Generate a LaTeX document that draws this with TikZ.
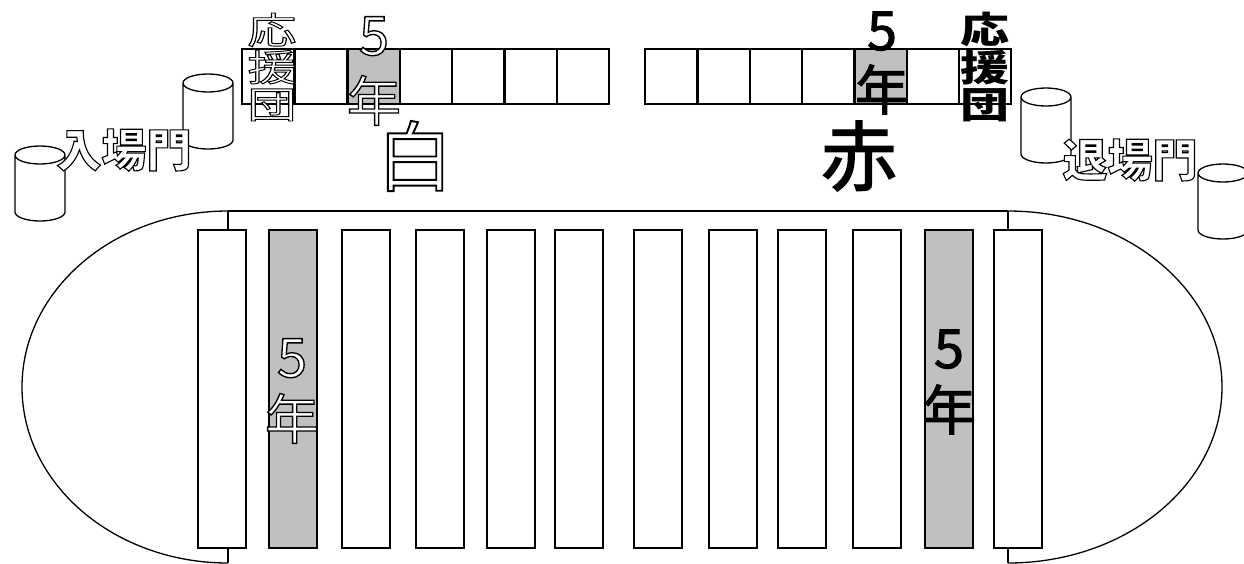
\documentclass[tikz,border=0pt]{standalone}
\usepackage{fontspec}
\usepackage{xcolor}
\setmainfont{Noto Sans CJK JP}
\newfontfamily\hollowfont[FakeBold=2.5]{Noto Sans CJK JP}
\newfontfamily\solidfont[FakeBold=1.8]{Noto Sans CJK JP}
\font\hollowgate="Noto Sans CJK JP/B:embolden=2.5" at 45pt
\definecolor{seatgray}{HTML}{C0C0C0}
% chu trang vien den
\newcommand{\hollow}[1]{{\hollowfont\special{pdf:bcolor [1] [0]}#1\special{pdf:ecolor}}}
\newcommand{\hollowb}[1]{{\hollowgate\special{pdf:bcolor [1] [0]}#1\special{pdf:ecolor}}}
\tikzset{
    seat/.style={draw=black, line width=1.3pt, fill=white},
    seatfive/.style={seat, fill=seatgray},
}
\begin{document}
\begin{tikzpicture}[x=1pt, y=-1pt, line width=1.3pt,
    tag/.style={inner sep=0pt, align=center, anchor=center, execute at begin node={\lineskiplimit=-100pt}},
    squat/.style={tag, yscale=0.75, transform shape}]
    \clip (0,0) rectangle (1244,563);
    % Trường đua
    \draw (228,211) -- (1008,211);
    \draw (228,211) arc[start angle=90, end angle=270, x radius=206, y radius=-176];
    \draw (1008,211) arc[start angle=90, end angle=-90, x radius=214, y radius=-176];
    \draw (228,211) -- (228,563);
    \draw (1008,211) -- (1008,563);

    % Hàng ghế dưới
    \foreach \x in {198,342,416,487,555,634,709,778,853,994} {
        \draw[seat] (\x,230) rectangle ++(48,318);
    }
    \foreach \x in {269,925} {
        \draw[seatfive] (\x,230) rectangle ++(48,318);
    }

    % Hàng ghế trên
    \foreach \x in {242,295,400,452,505,557,645,698,750,802,907,959} {
        \draw[seat] (\x,49) rectangle ++(52,55);
    }
    \foreach \x in {348,855} {
        \draw[seatfive] (\x,49) rectangle ++(52,55);
    }

    % Cổng
    \foreach \x/\y in {15/155, 183/83, 1021/97, 1198/173} {
        \draw[fill=white] (\x,\y) arc[start angle=180, end angle=360, x radius=25, y radius=-9]
            arc[start angle=0, end angle=180, x radius=25, y radius=-9]
            -- ++(0,57) arc[start angle=180, end angle=360, x radius=25, y radius=-9] -- ++(0,-57);
    }

    % Nhãn
    \node[squat, font=\fontsize{49}{49.5}\selectfont] (whitecheer) at (272,67) {\hollow{応}\\\hollow{援}\\\hollow{団}};
    \node[squat, font=\fontsize{49}{49.5}\selectfont\bfseries] (redcheer) at (985,67) {応\\援\\団};
    \node[tag, font=\fontsize{54}{66}\selectfont] (whitetop) at (374,71) {\hollow{5}\\\hollow{年}};
    \node[tag, font=\fontsize{54}{60}\selectfont\solidfont] (redtop) at (882,63) {5\\年};
    \node[tag, font=\fontsize{54}{62}\selectfont] (whitefield) at (292,391) {\hollow{5}\\\hollow{年}};
    \node[tag, font=\fontsize{54}{62}\selectfont\solidfont] (redfield) at (949,382) {5\\年};
    \node[tag, font=\fontsize{76}{76}\selectfont] (whiteteam) at (415,156) {\hollow{白}};
    \node[tag, font=\fontsize{76}{76}\selectfont\solidfont] (redteam) at (859,156) {赤};
    \node[tag] (entrance) at (124,150) {\hollowb{入場門}};
    \node[tag] (exit) at (1130,160) {\hollowb{退場門}};
\end{tikzpicture}
\end{document}
